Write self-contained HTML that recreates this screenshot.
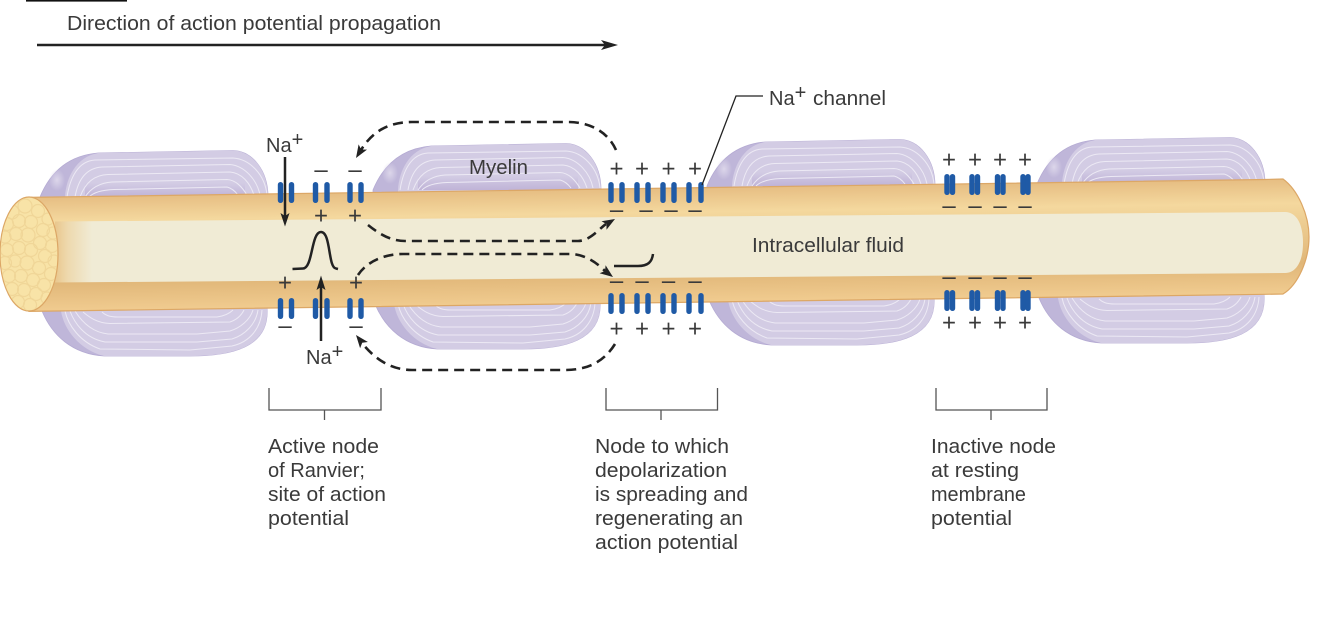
<!DOCTYPE html>
<html><head><meta charset="utf-8">
<style>
html,body{margin:0;padding:0;background:#fff;width:1318px;height:622px;overflow:hidden}
svg{display:block}
text{font-family:"Liberation Sans",sans-serif;fill:#3a3a3a}
.l{font-size:20px}
.p{font-size:24px;text-anchor:middle;fill:#3a3a3a}
</style></head><body>
<svg width="1318" height="622" viewBox="0 0 1318 622" xmlns="http://www.w3.org/2000/svg">
<defs>
<linearGradient id="ax" gradientUnits="userSpaceOnUse" x1="0" y1="197.4" x2="1.64" y2="311.4">
<stop offset="0" stop-color="#e6bd82"/><stop offset=".215" stop-color="#f4d89e"/>
<stop offset=".74" stop-color="#e0b678"/><stop offset="1" stop-color="#f0cb8f"/>
</linearGradient>
<linearGradient id="fl" gradientUnits="userSpaceOnUse" x1="55" y1="0" x2="92" y2="0">
<stop offset="0" stop-color="#e9c78d"/><stop offset=".35" stop-color="#eed9ae"/><stop offset="1" stop-color="#f0ebd5"/>
</linearGradient>
<linearGradient id="sh" x1="0" y1="0" x2="0" y2="1">
<stop offset="0" stop-color="#b9abd3" stop-opacity="0"/><stop offset="1" stop-color="#b9abd3" stop-opacity=".75"/>
</linearGradient>
<radialGradient id="hi"><stop offset="0" stop-color="#dcd6ea"/><stop offset="1" stop-color="#dcd6ea" stop-opacity="0"/></radialGradient>
<clipPath id="cut"><ellipse cx="29" cy="254" rx="28" ry="56.5"/></clipPath>
<g id="my">
<path d="M40,197 C47,180 62,156 98,153 L233,150.500 C252,151 268,170 268,197 L267,308 C270,348 230,356 190,356 L104,356 C72,354 52,335 42,311 Z" fill="#bfb6d9" stroke="#b5abd3" stroke-width=".8"/>
<ellipse cx="57" cy="180" rx="8" ry="11" fill="url(#hi)"/>
<path d="M65,197 C66,178 76,157 98,153 L233,150.500 C252,151 268,170 268,197 L267,308 C270,348 230,356 190,356 L104,356 C80,350 64,330 61,311 Z" fill="#d3cce4"/>
<rect x="85" y="183" width="160" height="14" fill="url(#sh)"/>
<g fill="none" stroke="#ece9f4" stroke-width="1">
<path d="M67,197 C70,178 78,161 95,160 L233,158 C250,159 265,175 267,195"/>
<path d="M75,197 C78,180 86,168 102,167 L230,164.500 C245,166 257,180 260,195"/>
<path d="M80,197 C84,186 92,175 108,174.500 L230,172 C242,173 250,183 254,195"/>
<path d="M85,197 C89,191 97,183 112,182 L227,179.500 C236,180 242,187 247,195"/>
<path d="M89,197 C93,193 100,190 114,189.500 L227,187 C231,188 235,191 238,195"/>
<path d="M65,311 C68,325 80,342 100,349 L190,350 L232,346 C250,342 261,328 262,310"/>
<path d="M70,311 C74,322 84,338 105,342 L197,342 L232,339 C245,335 256,324 258,310"/>
<path d="M75,311 C80,319 90,332 108,334 L197,334 L230,331 C240,328 250,320 253,310"/>
<path d="M83,312 C88,316 96,323 110,323.500 L230,322 C236,320 241,316 244,310"/>
<path d="M102,312 C105,315 109,317 118,317 L217,317 C224,316 229,314 233,310"/>
</g>
</g>
<g id="ch"><rect x="-2.700" y="0" width="5.400" height="21" rx="2.700" fill="#1f5aa6"/></g>
</defs>

<rect x="26" y="0" width="101" height="1.600" fill="#111"/>
<text class="l" x="67" y="30" textLength="374" lengthAdjust="spacingAndGlyphs">Direction of action potential propagation</text>
<line x1="37" y1="45" x2="606" y2="45" stroke="#222" stroke-width="2.500"/>
<path d="M618,45 L601,40 L605,45 L601,50 Z" fill="#222"/>

<use href="#my"/>
<use href="#my" transform="translate(333,-7)"/>
<use href="#my" transform="translate(667,-11)"/>
<use href="#my" transform="translate(997,-13)"/>

<path d="M29,197.400 L1265,179.500 L1283,179 C1298,190 1309,215 1309,237 C1309,260 1298,285 1283,294 L1265,294.300 L29,311.400 Z" fill="url(#ax)" stroke="#dca766" stroke-width="1.200"/>
<path d="M55,221.500 L1285,212 C1297,212 1303,225 1303,243 C1303,260 1297,273 1285,273 L55,282.500 Z" fill="url(#fl)"/>
<ellipse cx="29" cy="254" rx="29" ry="57" fill="#f8e3a7" stroke="#dca766" stroke-width="1.200"/>
<g clip-path="url(#cut)" fill="none" stroke="#f0d698" stroke-width="1.200">
<circle cx="12" cy="212" r="7"/><circle cx="25" cy="206" r="7"/><circle cx="38" cy="211" r="6.500"/><circle cx="48" cy="219" r="6"/>
<circle cx="7" cy="224" r="6.500"/><circle cx="19" cy="221" r="6.500"/><circle cx="31" cy="222" r="6.500"/><circle cx="43" cy="230" r="6.500"/><circle cx="53" cy="233" r="6"/>
<circle cx="5" cy="237" r="6"/><circle cx="16" cy="234" r="6.500"/><circle cx="28" cy="235" r="7"/><circle cx="40" cy="243" r="6.500"/><circle cx="52" cy="246" r="6.500"/>
<circle cx="7" cy="250" r="6.500"/><circle cx="19" cy="248" r="6.500"/><circle cx="31" cy="250" r="6.500"/><circle cx="45" cy="256" r="6.500"/><circle cx="54" cy="261" r="6"/>
<circle cx="5" cy="263" r="6.500"/><circle cx="15" cy="261" r="6"/><circle cx="27" cy="263" r="7"/><circle cx="39" cy="268" r="6.500"/><circle cx="51" cy="274" r="6.500"/>
<circle cx="9" cy="276" r="6.500"/><circle cx="21" cy="276" r="6.500"/><circle cx="33" cy="280" r="6.500"/><circle cx="44" cy="285" r="6.500"/>
<circle cx="12" cy="289" r="6.500"/><circle cx="24" cy="290" r="6.500"/><circle cx="36" cy="294" r="6.500"/><circle cx="47" cy="298" r="6"/>
<circle cx="18" cy="302" r="6.500"/><circle cx="30" cy="305" r="6.500"/>
</g>

<!-- channels node 1 -->
<use href="#ch" x="280.500" y="182"/><use href="#ch" x="291.500" y="182"/><use href="#ch" x="315.500" y="182"/><use href="#ch" x="327" y="182"/><use href="#ch" x="350" y="182"/><use href="#ch" x="361" y="182"/>
<use href="#ch" x="280.500" y="298"/><use href="#ch" x="291.500" y="298"/><use href="#ch" x="315.500" y="298"/><use href="#ch" x="327" y="298"/><use href="#ch" x="350" y="298"/><use href="#ch" x="361" y="298"/>
<!-- node 2 -->
<use href="#ch" x="611" y="182"/><use href="#ch" x="622" y="182"/><use href="#ch" x="637" y="182"/><use href="#ch" x="648" y="182"/><use href="#ch" x="663" y="182"/><use href="#ch" x="674" y="182"/><use href="#ch" x="689" y="182"/><use href="#ch" x="701" y="182"/>
<use href="#ch" x="611" y="293"/><use href="#ch" x="622" y="293"/><use href="#ch" x="637" y="293"/><use href="#ch" x="648" y="293"/><use href="#ch" x="663" y="293"/><use href="#ch" x="674" y="293"/><use href="#ch" x="689" y="293"/><use href="#ch" x="701" y="293"/>
<!-- node 3 -->
<use href="#ch" x="947" y="174"/><use href="#ch" x="952.500" y="174"/><use href="#ch" x="972" y="174"/><use href="#ch" x="977.500" y="174"/><use href="#ch" x="997.500" y="174"/><use href="#ch" x="1003" y="174"/><use href="#ch" x="1023" y="174"/><use href="#ch" x="1028" y="174"/>
<use href="#ch" x="947" y="290"/><use href="#ch" x="952.500" y="290"/><use href="#ch" x="972" y="290"/><use href="#ch" x="977.500" y="290"/><use href="#ch" x="997.500" y="290"/><use href="#ch" x="1003" y="290"/><use href="#ch" x="1023" y="290"/><use href="#ch" x="1028" y="290"/>

<!-- charges -->
<g>
<text class="p" x="321" y="177.500">–</text><text class="p" x="355" y="177.500">–</text>
<text class="p" x="321" y="223.500">+</text><text class="p" x="355" y="223.500">+</text>
<text class="p" x="285" y="290.500">+</text><text class="p" x="356" y="290.500">+</text>
<text class="p" x="285" y="333.500">–</text><text class="p" x="356" y="333.500">–</text>

<text class="p" x="616.500" y="176.500">+</text><text class="p" x="642" y="176.500">+</text><text class="p" x="668.500" y="176.500">+</text><text class="p" x="695" y="176.500">+</text>
<text class="p" x="616.500" y="217.500">–</text><text class="p" x="646" y="217.500">–</text><text class="p" x="671" y="217.500">–</text><text class="p" x="695" y="217.500">–</text>
<text class="p" x="616.500" y="288.500">–</text><text class="p" x="642" y="288.500">–</text><text class="p" x="668.500" y="288.500">–</text><text class="p" x="695" y="288.500">–</text>
<text class="p" x="616.500" y="336.500">+</text><text class="p" x="642" y="336.500">+</text><text class="p" x="668.500" y="336.500">+</text><text class="p" x="695" y="336.500">+</text>

<text class="p" x="949" y="167.500">+</text><text class="p" x="975" y="167.500">+</text><text class="p" x="1000" y="167.500">+</text><text class="p" x="1025" y="167.500">+</text>
<text class="p" x="949" y="213.500">–</text><text class="p" x="975" y="213.500">–</text><text class="p" x="1000" y="213.500">–</text><text class="p" x="1025" y="213.500">–</text>
<text class="p" x="949" y="284.500">–</text><text class="p" x="975" y="284.500">–</text><text class="p" x="1000" y="284.500">–</text><text class="p" x="1025" y="284.500">–</text>
<text class="p" x="949" y="330.500">+</text><text class="p" x="975" y="330.500">+</text><text class="p" x="1000" y="330.500">+</text><text class="p" x="1025" y="330.500">+</text>
</g>

<!-- dashed -->
<g fill="none" stroke="#222" stroke-width="2.600" stroke-dasharray="10 6">
<path d="M616,150 C608,132 590,122 568,122 L412,122 C388,122 372,132 361,150"/>
<path d="M368,225 C378,233 390,241 405,241 L578,241 C590,241 600,228 606,224"/>
<path d="M358,275 C366,263 382,254 403,254 L570,254 C584,254 596,262 605,271"/>
<path d="M615,344 C605,360 590,370 565,370 L412,370 C390,370 374,358 362,343"/>
</g>
<g fill="#222">
<path d="M356,158 L358.600,144.400 L361.200,149.500 L367,149.600 Z"/>
<path d="M615,219 L601.500,221.200 L606.500,224 L606.500,229.700 Z"/>
<path d="M613,277 L605.600,265.200 L605,271 L599.600,273.200 Z"/>
<path d="M356,335 L367.900,342 L362.200,342.800 L360.100,348.200 Z"/>
</g>

<!-- Na arrows & waveforms -->
<g fill="none" stroke="#222" stroke-width="2.500">
<line x1="285" y1="157" x2="285" y2="216"/>
<line x1="321" y1="341" x2="321" y2="286"/>
<path d="M292.500,269 L303,268.500 C313,268 311,232 321,232 C331,232 328,268 336,268.500 L338,269"/>
<path d="M614,266 L638,266 C648,266 652,262 653,254"/>
</g>
<path d="M285,226.500 L280.500,213 L285,216 L289.500,213 Z" fill="#222"/>
<path d="M321,275.500 L316.500,290 L321,287 L325.500,290 Z" fill="#222"/>

<!-- Na+ channel -->
<path d="M702,185 L736,96 L763,96" fill="none" stroke="#222" stroke-width="1.300"/>

<!-- labels -->
<text class="l" x="266" y="152">Na<tspan dy="-6">+</tspan></text>
<text class="l" x="306" y="364">Na<tspan dy="-6">+</tspan></text>
<text class="l" x="769" y="105">Na<tspan dy="-6">+</tspan></text>
<text class="l" x="813" y="105" textLength="73" lengthAdjust="spacingAndGlyphs">channel</text>
<text class="l" x="469" y="174" textLength="59" lengthAdjust="spacingAndGlyphs">Myelin</text>
<text class="l" x="752" y="252" textLength="152" lengthAdjust="spacingAndGlyphs">Intracellular fluid</text>

<g fill="none" stroke="#555" stroke-width="1.300">
<path d="M269,388 V410 H381 V388 M324.500,410 V420"/>
<path d="M606,388 V410 H717.500 V388 M661,410 V420"/>
<path d="M936,388 V410 H1047 V388 M991,410 V420"/>
</g>

<text class="l" x="268" y="453" textLength="111" lengthAdjust="spacingAndGlyphs">Active node</text>
<text class="l" x="268" y="477" textLength="97" lengthAdjust="spacingAndGlyphs">of Ranvier;</text>
<text class="l" x="268" y="501" textLength="118" lengthAdjust="spacingAndGlyphs">site of action</text>
<text class="l" x="268" y="525" textLength="81" lengthAdjust="spacingAndGlyphs">potential</text>

<text class="l" x="595" y="453" textLength="134" lengthAdjust="spacingAndGlyphs">Node to which</text>
<text class="l" x="595" y="477" textLength="132" lengthAdjust="spacingAndGlyphs">depolarization</text>
<text class="l" x="595" y="501" textLength="153" lengthAdjust="spacingAndGlyphs">is spreading and</text>
<text class="l" x="595" y="525" textLength="148" lengthAdjust="spacingAndGlyphs">regenerating an</text>
<text class="l" x="595" y="549" textLength="143" lengthAdjust="spacingAndGlyphs">action potential</text>

<text class="l" x="931" y="453" textLength="125" lengthAdjust="spacingAndGlyphs">Inactive node</text>
<text class="l" x="931" y="477" textLength="88" lengthAdjust="spacingAndGlyphs">at resting</text>
<text class="l" x="931" y="501" textLength="95" lengthAdjust="spacingAndGlyphs">membrane</text>
<text class="l" x="931" y="525" textLength="81" lengthAdjust="spacingAndGlyphs">potential</text>
</svg>
</body></html>
